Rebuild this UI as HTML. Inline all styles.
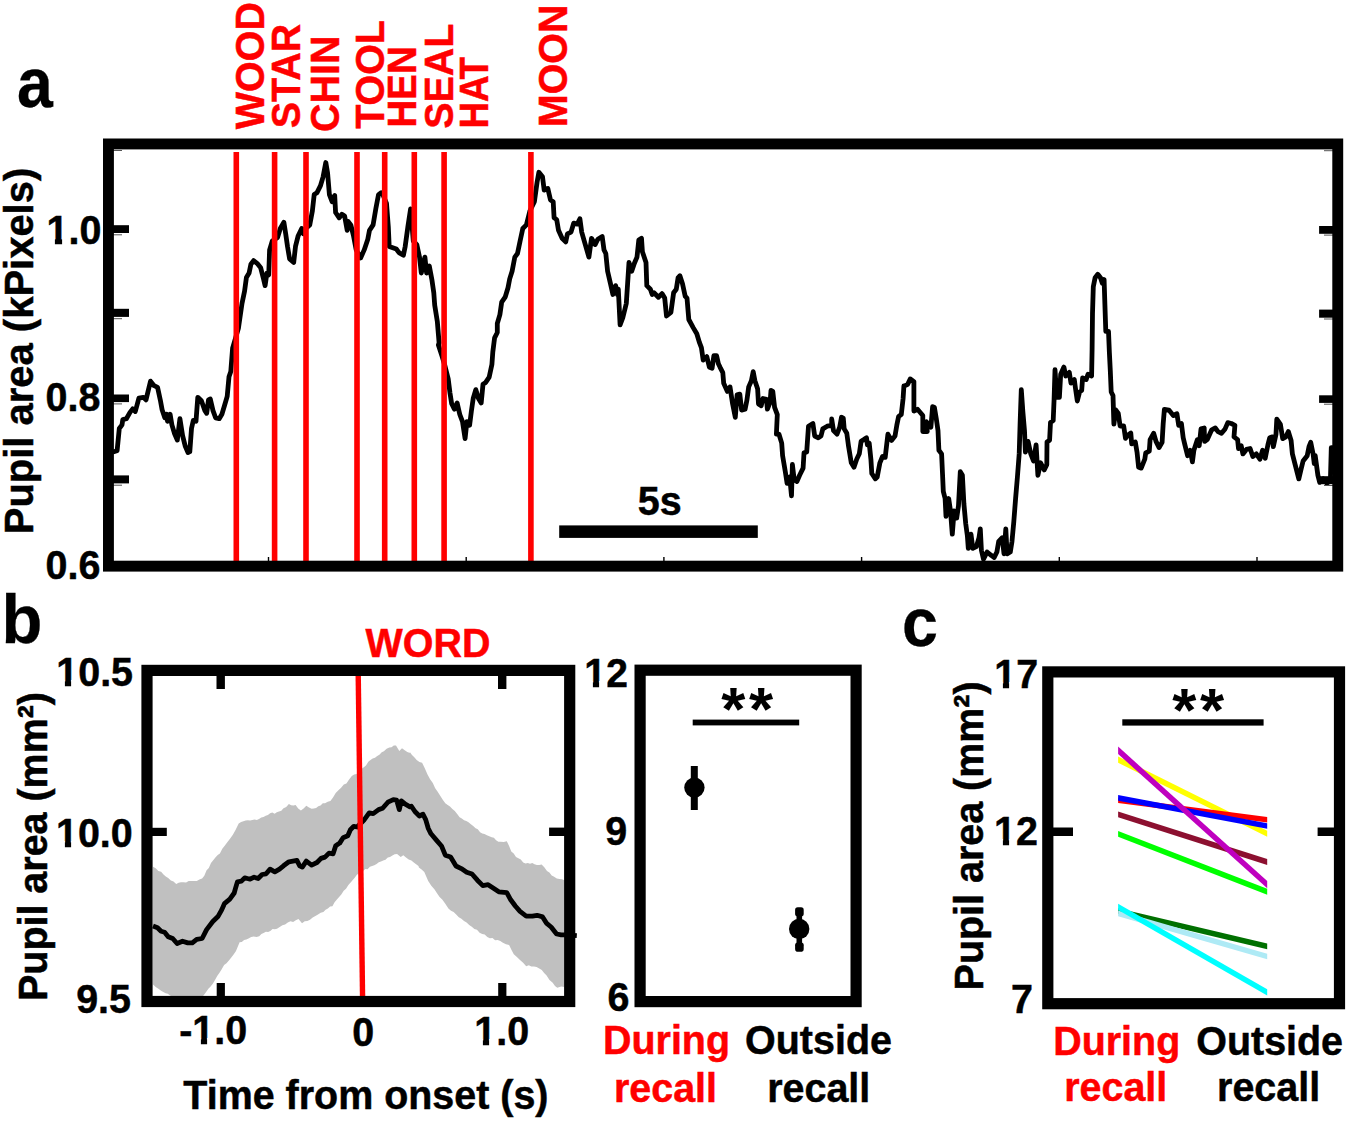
<!DOCTYPE html>
<html><head><meta charset="utf-8"><title>Figure</title>
<style>html,body{margin:0;padding:0;background:#fff}svg{display:block}text{font-family:"Liberation Sans",sans-serif;font-weight:bold}</style>
</head><body>
<svg width="1350" height="1121" viewBox="0 0 1350 1121">
<rect width="1350" height="1121" fill="#fff"/>
<path d="M113.9 451.7 L117.1 450.8 L119.3 428.5 L122.0 424.9 L122.8 419.6 L126.4 418.7 L130.0 412.4 L132.7 408.9 L135.3 411.5 L138.9 398.1 L143.4 397.3 L146.0 399.9 L150.5 381.2 L154.1 385.7 L157.6 387.4 L160.3 399.9 L162.1 409.7 L164.8 417.8 L166.6 414.2 L167.5 421.3 L170.1 414.2 L171.9 424.9 L174.6 433.8 L177.3 440.1 L179.9 418.7 L182.6 435.6 L185.3 446.3 L188.0 452.6 L189.8 451.7 L191.5 428.5 L193.3 420.4 L196.0 421.3 L197.8 397.3 L201.4 400.8 L204.9 410.6 L206.7 413.3 L208.5 399.9 L210.3 399.0 L213.0 410.6 L215.6 417.8 L219.2 418.7 L221.9 414.2 L224.6 405.3 L227.2 396.4 L229.0 376.7 L230.8 371.4 L232.6 348.2 L238.4 328.4 L242.0 303.5 L244.6 291.0 L246.4 277.6 L249.1 273.1 L250.9 264.2 L253.6 260.6 L257.1 263.3 L260.7 267.8 L263.4 278.5 L265.1 285.6 L266.9 273.1 L268.7 274.9 L269.6 249.9 L272.3 241.0 L277.6 237.4 L280.3 228.5 L283.9 222.3 L285.7 233.9 L287.5 246.4 L289.6 258.9 L293.7 262.4 L295.5 246.4 L298.2 235.7 L301.7 228.5 L303.5 233.9 L305.8 228.5 L309.8 224.9 L312.4 210.7 L314.2 194.6 L316.9 192.8 L320.5 185.7 L323.1 176.8 L325.8 162.5 L327.6 173.2 L329.4 194.6 L332.1 201.7 L334.7 195.5 L335.6 212.5 L339.2 217.8 L341.9 214.2 L344.6 216.0 L347.2 230.3 L348.1 221.4 L350.8 224.9 L353.5 235.7 L356.2 249.9 L360.6 258.0 L364.2 249.9 L367.8 239.2 L369.5 230.3 L373.1 224.9 L375.8 208.9 L378.5 194.6 L381.1 192.8 L382.9 194.6 L386.5 203.5 L388.3 226.7 L389.2 246.4 L396.3 249.0 L399.0 252.6 L403.4 255.3 L405.2 246.4 L407.9 226.7 L410.6 208.9 L412.0 224.9 L413.3 241.0 L416.8 244.6 L419.5 257.1 L421.3 273.1 L423.1 264.2 L424.9 257.1 L426.6 273.1 L429.3 266.0 L432.0 280.3 L433.8 292.8 L434.7 305.2 L437.3 321.3 L439.1 342.7 L438.4 344.9 L441.9 355.7 L444.6 364.6 L448.2 378.9 L450.0 393.1 L451.7 403.8 L454.4 409.2 L457.1 402.9 L459.8 414.5 L462.5 421.7 L465.1 438.6 L466.9 421.7 L469.6 425.2 L471.4 411.0 L473.2 398.5 L475.8 389.6 L478.5 398.5 L481.2 402.9 L483.0 384.2 L485.7 382.4 L489.2 377.1 L491.9 364.6 L492.8 352.1 L494.6 337.8 L497.3 332.5 L497.3 323.5 L499.9 314.6 L501.7 302.1 L505.3 296.8 L508.0 287.8 L509.7 278.9 L512.1 271.3 L514.8 257.1 L517.5 253.5 L520.1 241.0 L522.8 228.5 L526.4 224.9 L530.0 210.7 L534.4 201.7 L537.1 182.1 L538.9 172.3 L542.5 176.8 L544.2 190.1 L547.8 188.4 L550.5 200.0 L553.2 201.7 L554.1 217.8 L556.7 219.6 L558.5 230.3 L562.1 238.3 L565.7 241.9 L567.4 233.9 L571.0 232.1 L573.7 223.2 L577.3 224.1 L579.9 218.7 L581.7 232.1 L585.3 244.6 L588.9 257.1 L591.5 238.3 L595.1 244.6 L597.8 239.2 L602.2 236.5 L604.0 249.9 L605.8 253.5 L607.6 271.3 L610.3 282.9 L612.9 294.5 L615.6 285.6 L617.4 294.5 L618.3 289.2 L620.1 324.9 L622.8 317.7 L626.3 303.5 L629.0 262.4 L631.7 271.3 L634.4 263.3 L637.0 257.1 L638.8 240.1 L641.5 238.3 L642.4 251.7 L646.0 262.4 L646.8 285.6 L650.4 289.2 L652.2 294.5 L654.0 292.8 L658.4 297.2 L662.0 293.6 L664.7 298.1 L666.5 316.0 L670.9 312.4 L673.6 292.8 L676.3 289.2 L678.1 277.6 L679.9 275.8 L682.5 283.8 L685.2 296.3 L687.0 298.1 L688.8 319.5 L693.2 327.6 L696.8 333.8 L699.5 342.7 L701.4 347.7 L703.2 360.1 L706.8 356.6 L709.4 367.3 L712.1 368.2 L713.9 355.7 L716.6 355.7 L718.4 363.7 L720.1 367.3 L722.8 372.6 L723.7 383.3 L727.3 391.4 L730.0 386.9 L732.6 403.9 L735.3 417.3 L737.1 394.9 L739.8 394.1 L741.6 410.1 L745.1 409.2 L746.9 400.3 L748.7 386.9 L751.4 380.7 L753.2 371.7 L754.9 380.7 L757.6 388.7 L758.5 403.9 L761.2 405.7 L763.0 398.5 L766.5 399.4 L767.4 409.2 L770.1 402.1 L771.0 390.5 L772.8 391.4 L774.6 407.4 L777.3 414.6 L776.4 434.2 L779.0 434.2 L781.7 443.1 L782.6 455.6 L785.3 471.7 L787.1 483.3 L789.7 477.0 L791.5 495.8 L792.4 464.5 L794.2 479.7 L796.9 481.5 L799.6 475.2 L803.1 468.1 L804.0 452.9 L806.7 452.0 L808.5 426.2 L812.9 423.5 L814.7 436.0 L818.3 437.8 L821.0 436.0 L822.8 428.9 L827.2 426.2 L831.7 425.3 L831.7 419.0 L833.5 430.6 L837.0 434.2 L839.7 427.1 L841.5 417.3 L843.3 418.1 L844.2 428.9 L846.8 433.3 L848.6 446.7 L851.3 462.8 L854.0 467.2 L856.7 459.2 L859.3 453.8 L861.1 441.3 L863.8 439.6 L866.5 437.8 L867.4 444.9 L869.2 443.1 L870.9 459.2 L871.8 473.5 L875.4 478.8 L877.2 477.0 L879.9 462.8 L882.5 456.5 L885.2 457.4 L887.9 434.2 L891.5 440.4 L895.0 436.0 L896.8 425.3 L898.6 416.4 L901.3 414.6 L903.1 398.5 L903.9 386.0 L904.1 386.1 L907.7 384.3 L910.3 378.9 L913.9 381.6 L913.9 411.0 L917.5 409.3 L922.8 415.5 L922.8 431.6 L927.3 431.6 L926.4 421.7 L930.9 427.1 L932.6 406.6 L934.4 407.5 L936.2 418.2 L938.0 430.7 L938.9 450.3 L941.6 453.9 L942.5 473.5 L943.3 491.3 L945.1 498.5 L946.0 516.3 L948.7 498.5 L950.5 511.0 L952.3 534.2 L954.1 511.0 L956.7 518.1 L958.5 505.6 L960.3 471.7 L962.4 475.3 L963.9 503.8 L965.7 523.5 L967.4 536.0 L968.3 548.4 L971.0 534.2 L972.8 548.4 L976.4 546.7 L979.0 537.7 L980.3 528.8 L981.4 550.2 L983.5 559.2 L987.1 552.0 L991.5 555.6 L994.2 557.4 L996.9 552.0 L998.7 541.3 L1002.2 537.7 L1004.0 553.8 L1005.8 528.8 L1007.1 553.8 L1010.3 552.0 L1012.0 541.3 L1013.8 521.7 L1015.6 498.5 L1017.4 477.1 L1019.2 453.9 L1020.1 423.5 L1021.3 389.6 L1022.8 411.0 L1024.5 430.7 L1025.4 452.1 L1028.1 441.4 L1030.8 453.9 L1033.5 461.0 L1036.1 444.9 L1037.9 475.3 L1040.6 462.8 L1044.2 469.9 L1046.8 464.6 L1047.0 442.0 L1049.6 440.2 L1050.5 422.4 L1053.2 420.6 L1054.1 399.2 L1055.0 369.7 L1056.8 397.4 L1059.4 397.4 L1060.7 374.2 L1063.9 367.1 L1065.7 376.0 L1069.3 372.4 L1071.0 383.1 L1074.3 379.6 L1075.5 388.5 L1077.3 401.0 L1079.6 392.0 L1081.7 390.3 L1082.6 377.8 L1086.2 379.6 L1088.0 374.2 L1091.6 376.0 L1092.1 349.2 L1092.5 313.5 L1093.3 286.8 L1095.1 277.8 L1097.8 274.3 L1100.5 277.8 L1102.3 283.2 L1104.1 279.6 L1104.9 304.6 L1105.8 331.4 L1108.5 331.4 L1109.4 352.8 L1110.3 370.6 L1111.2 392.0 L1113.0 395.6 L1113.9 424.2 L1115.7 409.9 L1118.3 413.5 L1120.1 426.0 L1123.7 426.0 L1125.5 438.4 L1128.1 434.9 L1130.8 433.1 L1131.7 443.8 L1135.3 442.0 L1137.1 452.7 L1138.6 467.3 L1141.2 468.1 L1144.8 459.2 L1145.7 453.0 L1149.3 451.2 L1150.1 439.6 L1153.7 433.3 L1156.0 441.4 L1159.1 447.6 L1162.1 442.3 L1163.2 423.5 L1164.4 409.3 L1168.9 410.1 L1173.3 415.5 L1176.9 413.7 L1178.7 425.3 L1181.4 423.5 L1183.2 437.8 L1184.9 444.9 L1187.6 455.7 L1190.3 450.3 L1192.4 461.9 L1193.9 450.3 L1197.4 439.6 L1199.2 445.8 L1201.0 428.9 L1204.2 428.0 L1204.6 441.4 L1207.3 439.6 L1211.7 429.8 L1215.3 428.0 L1218.0 431.6 L1221.5 433.3 L1225.1 428.9 L1227.8 422.6 L1231.3 423.5 L1234.9 425.3 L1234.0 436.9 L1237.6 439.6 L1238.5 448.5 L1241.2 445.8 L1242.9 453.9 L1246.5 449.4 L1250.1 448.5 L1252.8 456.5 L1256.3 453.9 L1259.9 459.2 L1262.6 450.3 L1265.2 458.3 L1267.9 444.9 L1269.7 437.8 L1272.4 436.9 L1273.3 446.7 L1276.0 434.2 L1276.8 419.1 L1280.4 424.4 L1282.7 438.7 L1285.8 436.9 L1288.4 431.6 L1291.1 440.5 L1292.4 453.9 L1295.6 466.4 L1298.8 478.9 L1300.9 469.9 L1303.1 461.0 L1307.2 455.7 L1309.0 446.7 L1310.7 442.3 L1313.1 453.9 L1314.3 463.7 L1315.2 455.7 L1317.9 475.3 L1319.7 482.4 L1323.2 478.9 L1326.8 483.3 L1330.4 480.6 L1331.3 447.6 L1332.5 447.6" fill="none" stroke="#000" stroke-width="4.8" stroke-linejoin="round" stroke-linecap="round"/>
<rect x="233.5" y="152" width="5.6" height="411" fill="#f00"/>
<rect x="271.8" y="152" width="5.6" height="411" fill="#f00"/>
<rect x="303.2" y="152" width="5.6" height="411" fill="#f00"/>
<rect x="354.2" y="152" width="5.6" height="411" fill="#f00"/>
<rect x="381.9" y="152" width="5.6" height="411" fill="#f00"/>
<rect x="411.5" y="152" width="5.6" height="411" fill="#f00"/>
<rect x="441.3" y="152" width="5.6" height="411" fill="#f00"/>
<rect x="528.1" y="152" width="5.6" height="411" fill="#f00"/>
<rect x="112" y="225.2" width="17.0" height="7.8" fill="#000"/>
<rect x="1319.1" y="226.0" width="15" height="7.8" fill="#000"/>
<rect x="113" y="234.3" width="9" height="1" fill="#555"/>
<rect x="1324" y="234.6" width="9" height="1" fill="#555"/>
<rect x="112" y="308.8" width="17.0" height="8.1" fill="#000"/>
<rect x="1319.1" y="309.6" width="15" height="8.1" fill="#000"/>
<rect x="113" y="318.2" width="9" height="1" fill="#555"/>
<rect x="1324" y="318.5" width="9" height="1" fill="#555"/>
<rect x="112" y="394.5" width="17.0" height="7.6" fill="#000"/>
<rect x="1319.1" y="395.3" width="15" height="7.6" fill="#000"/>
<rect x="113" y="403.4" width="9" height="1" fill="#555"/>
<rect x="1324" y="403.7" width="9" height="1" fill="#555"/>
<rect x="112" y="475.4" width="17.0" height="8.0" fill="#000"/>
<rect x="1319.1" y="476.2" width="15" height="8.0" fill="#000"/>
<rect x="113" y="484.7" width="9" height="1" fill="#555"/>
<rect x="1324" y="485.0" width="9" height="1" fill="#555"/>
<rect x="113" y="150" width="9" height="1" fill="#555"/><rect x="1324" y="150.2" width="9" height="1" fill="#555"/>
<rect x="267.8" y="557" width="1.4" height="5" fill="#000"/>
<rect x="465.5" y="557" width="1.4" height="5" fill="#000"/>
<rect x="663.1999999999999" y="557" width="1.4" height="5" fill="#000"/>
<rect x="860.8999999999999" y="557" width="1.4" height="5" fill="#000"/>
<rect x="1058.6" y="557" width="1.4" height="5" fill="#000"/>
<rect x="1256.3" y="557" width="1.4" height="5" fill="#000"/>
<rect x="108.45" y="143.95" width="1229.30" height="422.20" fill="none" stroke="#000" stroke-width="10.9"/>
<rect x="559.2" y="525.4" width="198.6" height="12.5" fill="#000"/>
<clipPath id="cb"><rect x="147" y="670" width="423" height="332"/></clipPath>
<path d="M153.0 866.8 L155.7 868.3 L158.4 871.0 L161.1 871.7 L163.5 874.6 L165.8 876.4 L168.2 877.9 L170.9 880.5 L173.5 881.5 L176.2 884.0 L178.6 882.7 L181.0 882.2 L183.4 882.2 L186.1 882.6 L188.7 881.0 L191.4 880.9 L194.1 881.0 L196.8 880.9 L199.4 879.5 L202.1 878.5 L204.3 875.8 L206.6 870.3 L208.8 867.9 L211.0 863.1 L213.2 860.2 L215.4 857.5 L217.7 855.1 L219.9 853.4 L222.3 848.7 L224.7 845.8 L227.1 842.4 L230.0 838.8 L232.7 835.1 L235.4 830.2 L238.7 823.5 L241.1 822.1 L243.4 821.3 L245.6 820.6 L247.9 820.2 L250.1 820.5 L252.3 820.0 L254.6 819.5 L256.8 820.1 L259.0 819.1 L261.3 817.4 L263.5 817.1 L265.7 815.7 L267.9 814.9 L270.1 813.3 L272.3 812.5 L274.6 813.8 L276.8 812.2 L279.0 811.4 L281.3 810.7 L283.5 808.3 L286.2 806.9 L288.9 804.1 L291.1 805.2 L293.4 805.4 L295.6 805.0 L298.2 808.6 L300.9 810.6 L303.6 808.6 L306.3 805.8 L309.0 807.4 L311.6 808.8 L313.8 808.6 L316.1 807.9 L318.3 806.2 L320.5 805.4 L322.8 803.2 L325.0 803.3 L327.7 801.8 L330.4 801.1 L333.0 797.4 L335.7 793.1 L338.4 790.3 L341.1 787.8 L343.8 784.6 L346.4 783.4 L349.1 779.6 L351.8 776.1 L354.1 774.4 L356.5 774.0 L358.9 770.8 L361.4 769.0 L363.8 767.2 L366.0 765.6 L368.3 761.8 L370.5 760.0 L372.7 758.6 L375.0 757.7 L377.2 756.0 L379.4 754.7 L381.7 752.3 L383.9 751.2 L386.6 748.8 L389.3 747.4 L391.5 747.3 L393.8 745.6 L396.0 745.4 L399.3 750.9 L402.0 748.2 L404.7 750.2 L407.3 752.0 L410.0 753.0 L409.6 751.7 L412.0 754.9 L414.3 757.2 L416.7 759.9 L419.4 762.0 L422.1 762.8 L424.8 768.3 L427.4 774.3 L430.1 779.3 L432.8 783.1 L435.2 788.2 L437.5 791.5 L439.9 795.3 L442.6 799.6 L445.3 803.3 L447.7 805.1 L450.0 806.4 L452.4 809.1 L454.8 811.1 L457.2 814.1 L459.6 817.3 L461.8 818.5 L464.1 820.2 L466.3 821.0 L468.5 822.2 L470.9 824.3 L473.2 826.0 L475.6 828.3 L477.8 829.2 L480.1 832.3 L482.3 833.4 L484.5 834.1 L486.9 835.2 L489.3 836.2 L491.7 837.2 L493.9 837.8 L496.1 840.3 L498.4 841.7 L500.6 841.8 L503.7 841.9 L506.8 841.2 L509.1 846.1 L511.3 851.4 L513.7 853.6 L516.0 857.0 L518.4 858.2 L520.8 859.4 L523.2 862.6 L525.6 863.4 L527.8 862.9 L530.0 863.8 L532.3 863.1 L534.5 864.3 L536.9 865.1 L539.2 864.9 L541.6 864.6 L544.3 867.3 L547.0 871.1 L549.4 872.5 L551.7 875.4 L554.1 876.8 L556.8 878.5 L559.5 879.0 L562.0 879.3 L564.5 880.2 L564.3 986.9 L561.2 986.5 L557.3 987.7 L555.0 986.1 L552.7 982.7 L549.5 980.0 L546.4 975.2 L544.1 972.9 L541.8 970.0 L539.2 968.5 L536.6 966.9 L534.0 966.6 L531.4 966.5 L528.8 965.3 L526.2 966.3 L523.1 962.8 L520.0 959.9 L516.9 957.0 L513.8 954.2 L511.4 949.8 L509.1 945.1 L506.0 944.3 L502.9 942.7 L500.3 941.0 L497.7 940.0 L495.1 940.2 L492.5 937.9 L489.9 938.2 L487.3 937.0 L484.7 934.4 L482.2 934.0 L479.6 932.8 L477.0 929.7 L474.4 929.0 L471.8 926.7 L469.2 925.0 L466.6 922.4 L464.0 921.1 L461.4 918.7 L458.8 917.3 L456.2 914.6 L453.6 912.1 L451.0 910.8 L448.4 908.4 L445.3 903.8 L442.2 899.4 L439.6 897.0 L437.0 893.2 L434.4 889.3 L431.3 885.8 L428.2 881.1 L424.3 871.9 L421.6 869.4 L418.9 867.4 L418.5 866.0 L416.1 864.2 L413.8 862.6 L411.4 860.5 L408.7 859.5 L406.0 857.5 L403.3 855.3 L400.7 857.0 L397.1 854.0 L394.7 854.3 L392.4 855.4 L390.0 857.1 L387.8 857.4 L385.5 859.8 L383.2 860.5 L381.0 861.5 L378.8 862.3 L376.6 863.9 L374.3 865.3 L372.1 866.0 L369.9 866.7 L367.6 869.2 L365.4 869.1 L363.2 870.7 L359.1 873.2 L356.9 874.7 L354.7 877.8 L351.5 881.4 L348.4 884.9 L346.0 888.7 L343.7 890.8 L341.3 894.6 L339.1 897.0 L336.9 899.6 L334.6 902.3 L332.4 906.2 L330.1 906.4 L327.9 908.5 L325.6 909.7 L323.4 911.9 L320.7 912.8 L318.0 914.5 L315.4 916.0 L312.7 917.5 L310.0 919.7 L307.4 920.9 L304.7 921.2 L302.0 923.2 L298.5 918.9 L295.8 920.3 L293.1 921.9 L290.5 921.3 L287.8 922.6 L285.1 924.5 L282.4 925.3 L279.7 927.0 L277.0 928.7 L274.8 929.3 L272.6 928.9 L270.3 931.0 L268.1 932.0 L265.9 931.8 L263.6 932.9 L261.4 934.1 L259.2 936.2 L256.5 937.1 L253.8 936.5 L251.2 937.0 L248.5 938.4 L246.3 939.5 L244.1 939.9 L241.8 942.1 L239.6 942.3 L236.0 951.0 L233.6 954.4 L231.3 957.4 L228.9 960.6 L226.5 963.2 L224.1 965.1 L221.7 969.3 L219.5 972.7 L217.2 975.9 L215.0 980.1 L212.8 983.8 L210.6 986.4 L208.4 988.8 L206.1 991.9 L203.9 995.1 L202.1 996.9 L199.7 997.2 L197.3 998.2 L195.0 998.3 L192.6 998.2 L190.2 997.3 L187.8 998.2 L185.5 997.7 L183.1 997.0 L180.7 997.0 L178.3 996.6 L176.0 996.6 L173.6 997.1 L170.0 995.6 L167.8 993.8 L165.6 993.3 L163.3 992.1 L161.1 990.8 L158.4 988.8 L155.7 986.9 L153.0 984.6Z" fill="#c0c0c0" clip-path="url(#cb)"/>
<path d="M153.0 926.0 L157.5 927.8 L161.1 931.3 L164.6 932.2 L168.2 936.7 L172.7 938.5 L177.1 943.5 L182.5 941.2 L187.8 942.9 L192.3 942.9 L196.7 939.4 L202.1 938.5 L206.6 929.6 L212.8 921.5 L218.2 916.2 L221.7 909.9 L224.4 903.7 L229.8 899.2 L234.2 893.0 L235.4 888.6 L237.4 881.9 L241.4 881.2 L244.7 877.8 L250.1 879.2 L254.1 877.2 L258.1 878.5 L262.1 874.5 L266.1 873.8 L270.1 869.1 L274.8 871.8 L279.5 869.1 L283.5 865.8 L288.9 861.8 L292.9 861.1 L296.9 860.4 L299.6 865.8 L302.3 867.1 L306.3 861.1 L311.6 865.1 L317.0 862.5 L321.0 858.4 L325.0 857.1 L329.0 853.1 L333.1 853.8 L335.7 845.7 L339.7 843.1 L343.1 837.7 L347.8 835.7 L350.4 829.7 L353.8 826.3 L357.1 827.0 L363.8 820.3 L369.2 812.9 L373.2 813.6 L378.6 809.6 L382.6 808.3 L387.9 802.2 L393.3 799.6 L396.6 800.2 L399.3 809.6 L401.3 800.9 L405.3 804.2 L410.0 806.9 L411.4 806.2 L414.9 811.5 L419.4 816.0 L423.0 814.2 L425.7 819.6 L428.3 828.5 L431.0 833.8 L436.4 840.1 L441.7 846.3 L445.3 855.2 L450.6 857.0 L456.0 866.0 L461.3 868.6 L466.7 872.2 L472.0 874.0 L477.4 880.2 L482.8 885.6 L488.1 884.7 L493.5 888.3 L498.8 891.8 L506.8 892.7 L510.7 899.8 L515.3 906.0 L520.0 911.4 L526.2 916.1 L532.4 916.1 L537.1 915.3 L542.6 916.9 L546.4 923.1 L551.1 927.0 L556.6 934.0 L561.2 934.8 L564.3 934.8 L576.8 935.6" fill="none" stroke="#000" stroke-width="4.8" stroke-linejoin="round"/>
<line x1="358.2" y1="674" x2="362.6" y2="999" stroke="#f00" stroke-width="5.4"/>
<rect x="216.5" y="675" width="8.4" height="14" fill="#000"/>
<rect x="216.7" y="983" width="8.2" height="14" fill="#000"/>
<rect x="498.0" y="675" width="8.4" height="14" fill="#000"/>
<rect x="498.2" y="983" width="8.2" height="14" fill="#000"/>
<rect x="152" y="827.8" width="14.8" height="8.2" fill="#000"/>
<rect x="549.1" y="827.6" width="16" height="8.4" fill="#000"/>
<rect x="147.00" y="670.40" width="422.70" height="331.10" fill="none" stroke="#000" stroke-width="11.2"/>
<rect x="640.10" y="670.20" width="216.00" height="331.40" fill="none" stroke="#000" stroke-width="11.2"/>
<rect x="692.7" y="719.6" width="106.5" height="5.8" fill="#000"/>
<rect x="690.8" y="766" width="7" height="44" fill="#000"/><circle cx="694.4" cy="787.6" r="10.2" fill="#000"/>
<rect x="796.5" y="908" width="5.6" height="43.5" fill="#000"/><circle cx="799.2" cy="929" r="10.2" fill="#000"/><rect x="795.1" y="907.3" width="8.6" height="9" rx="2.6" fill="#000"/><rect x="795.1" y="942.6" width="8.6" height="9" rx="2.6" fill="#000"/>
<polygon points="1118.1,756.53 1267.2,830.73 1267.2,836.87 1118.1,762.67" fill="#ffff00"/>
<polygon points="1118.1,797.43 1267.2,816.93 1267.2,822.47 1118.1,802.97" fill="#ff0000"/>
<polygon points="1118.1,795.10 1267.2,823.20 1267.2,828.80 1118.1,800.70" fill="#0000ff"/>
<polygon points="1118.1,811.41 1267.2,859.11 1267.2,864.89 1118.1,817.19" fill="#8c1030"/>
<polygon points="1118.1,830.95 1267.2,888.75 1267.2,894.65 1118.1,836.85" fill="#00ff00"/>
<polygon points="1118.1,746.60 1267.2,880.90 1267.2,888.30 1118.1,754.00" fill="#bf00bf"/>
<polygon points="1118.1,908.17 1267.2,943.47 1267.2,949.13 1118.1,913.83" fill="#007000"/>
<polygon points="1118.1,910.44 1267.2,953.64 1267.2,959.36 1118.1,916.16" fill="#aeeaf5"/>
<polygon points="1118.1,903.63 1267.2,989.23 1267.2,995.57 1118.1,909.97" fill="#00ffff"/>
<rect x="1052" y="827.5" width="21" height="8.5" fill="#000"/>
<rect x="1317.6" y="827.5" width="18" height="8.5" fill="#000"/>
<rect x="1047.80" y="671.90" width="291.70" height="331.80" fill="none" stroke="#000" stroke-width="11.2"/>
<rect x="1122.3" y="719.3" width="141.3" height="6.3" fill="#000"/>
<text transform="translate(637.85,515.30) scale(0.955,1)" font-size="41.3" text-anchor="start" fill="#000" stroke="#000" stroke-width="0.5" font-family="Liberation Sans, sans-serif" font-weight="bold">5s</text>
<text transform="translate(101.35,244.15) scale(0.955,1)" font-size="41.3" text-anchor="end" fill="#000" stroke="#000" stroke-width="0.5" font-family="Liberation Sans, sans-serif" font-weight="bold">1.0</text>
<text transform="translate(100.45,411.35) scale(0.955,1)" font-size="41.3" text-anchor="end" fill="#000" stroke="#000" stroke-width="0.5" font-family="Liberation Sans, sans-serif" font-weight="bold">0.8</text>
<text transform="translate(100.45,578.65) scale(0.955,1)" font-size="41.3" text-anchor="end" fill="#000" stroke="#000" stroke-width="0.5" font-family="Liberation Sans, sans-serif" font-weight="bold">0.6</text>
<text transform="translate(33.45,351.00) rotate(-90) scale(0.968,1)" font-size="41.3" text-anchor="middle" fill="#000" stroke="#000" stroke-width="0.5" font-family="Liberation Sans, sans-serif" font-weight="bold">Pupil area (kPixels)</text>
<text transform="translate(263.70,129.15) rotate(-90) scale(0.955,1)" font-size="41.3" text-anchor="start" fill="#f00" stroke="#f00" stroke-width="0.5" font-family="Liberation Sans, sans-serif" font-weight="bold">WOOD</text>
<text transform="translate(299.85,128.25) rotate(-90) scale(0.955,1)" font-size="41.3" text-anchor="start" fill="#f00" stroke="#f00" stroke-width="0.5" font-family="Liberation Sans, sans-serif" font-weight="bold">STAR</text>
<text transform="translate(339.45,132.00) rotate(-90) scale(0.955,1)" font-size="41.3" text-anchor="start" fill="#f00" stroke="#f00" stroke-width="0.5" font-family="Liberation Sans, sans-serif" font-weight="bold">CHIN</text>
<text transform="translate(384.00,128.85) rotate(-90) scale(0.955,1)" font-size="41.3" text-anchor="start" fill="#f00" stroke="#f00" stroke-width="0.5" font-family="Liberation Sans, sans-serif" font-weight="bold">TOOL</text>
<text transform="translate(416.15,127.45) rotate(-90) scale(0.93,1)" font-size="41.3" text-anchor="start" fill="#f00" stroke="#f00" stroke-width="0.5" font-family="Liberation Sans, sans-serif" font-weight="bold">HEN</text>
<text transform="translate(453.00,128.80) rotate(-90) scale(0.955,1)" font-size="41.3" text-anchor="start" fill="#f00" stroke="#f00" stroke-width="0.5" font-family="Liberation Sans, sans-serif" font-weight="bold">SEAL</text>
<text transform="translate(487.90,128.45) rotate(-90) scale(0.89,1)" font-size="41.3" text-anchor="start" fill="#f00" stroke="#f00" stroke-width="0.5" font-family="Liberation Sans, sans-serif" font-weight="bold">HA<tspan dx="-4.5">T</tspan></text>
<text transform="translate(567.35,127.20) rotate(-90) scale(0.955,1)" font-size="41.3" text-anchor="start" fill="#f00" stroke="#f00" stroke-width="0.5" font-family="Liberation Sans, sans-serif" font-weight="bold">MOON</text>
<text transform="translate(17.05,106.90) scale(0.92,1)" font-size="70" text-anchor="start" fill="#000" stroke="#000" stroke-width="0.3" font-family="Liberation Sans, sans-serif" font-weight="bold">a</text>
<text transform="translate(1.45,642.60) scale(0.97,1)" font-size="69" text-anchor="start" fill="#000" stroke="#000" stroke-width="0.3" font-family="Liberation Sans, sans-serif" font-weight="bold">b</text>
<text transform="translate(902.10,645.65) scale(0.95,1)" font-size="68" text-anchor="start" fill="#000" stroke="#000" stroke-width="0.3" font-family="Liberation Sans, sans-serif" font-weight="bold">c</text>
<text transform="translate(133.05,686.00) scale(0.955,1)" font-size="41.3" text-anchor="end" fill="#000" stroke="#000" stroke-width="0.5" font-family="Liberation Sans, sans-serif" font-weight="bold">10.5</text>
<text transform="translate(132.75,846.50) scale(0.955,1)" font-size="41.3" text-anchor="end" fill="#000" stroke="#000" stroke-width="0.5" font-family="Liberation Sans, sans-serif" font-weight="bold">10.0</text>
<text transform="translate(131.00,1012.85) scale(0.955,1)" font-size="41.3" text-anchor="end" fill="#000" stroke="#000" stroke-width="0.5" font-family="Liberation Sans, sans-serif" font-weight="bold">9.5</text>
<text transform="translate(213.15,1044.45) scale(0.955,1)" font-size="41.3" text-anchor="middle" fill="#000" stroke="#000" stroke-width="0.5" font-family="Liberation Sans, sans-serif" font-weight="bold">-1.0</text>
<text transform="translate(363.20,1045.50) scale(0.955,1)" font-size="41.3" text-anchor="middle" fill="#000" stroke="#000" stroke-width="0.5" font-family="Liberation Sans, sans-serif" font-weight="bold">0</text>
<text transform="translate(501.65,1044.85) scale(0.955,1)" font-size="41.3" text-anchor="middle" fill="#000" stroke="#000" stroke-width="0.5" font-family="Liberation Sans, sans-serif" font-weight="bold">1.0</text>
<text transform="translate(46.90,846.50) rotate(-90) scale(0.955,1)" font-size="41.3" text-anchor="middle" fill="#000" stroke="#000" stroke-width="0.5" font-family="Liberation Sans, sans-serif" font-weight="bold">Pupil area (mm²)</text>
<text transform="translate(365.90,1109.40) scale(0.955,1)" font-size="41.3" text-anchor="middle" fill="#000" stroke="#000" stroke-width="0.5" font-family="Liberation Sans, sans-serif" font-weight="bold">Time from onset (s)</text>
<text transform="translate(428.00,657.45) scale(0.955,1)" font-size="41.3" text-anchor="middle" fill="#f00" stroke="#f00" stroke-width="0.5" font-family="Liberation Sans, sans-serif" font-weight="bold">WORD</text>
<text transform="translate(628.05,687.40) scale(0.955,1)" font-size="41.3" text-anchor="end" fill="#000" stroke="#000" stroke-width="0.5" font-family="Liberation Sans, sans-serif" font-weight="bold">12</text>
<text transform="translate(627.25,844.75) scale(0.955,1)" font-size="41.3" text-anchor="end" fill="#000" stroke="#000" stroke-width="0.5" font-family="Liberation Sans, sans-serif" font-weight="bold">9</text>
<text transform="translate(629.40,1010.65) scale(0.955,1)" font-size="41.3" text-anchor="end" fill="#000" stroke="#000" stroke-width="0.5" font-family="Liberation Sans, sans-serif" font-weight="bold">6</text>
<text transform="translate(747.25,730.15) scale(1,1)" font-size="62" text-anchor="middle" fill="#000" stroke="#000" stroke-width="0" font-family="Liberation Sans, sans-serif" font-weight="bold">*<tspan dx="3.6">*</tspan></text>
<text transform="translate(666.50,1053.55) scale(0.955,1)" font-size="41.3" text-anchor="middle" fill="#f00" stroke="#f00" stroke-width="0.5" font-family="Liberation Sans, sans-serif" font-weight="bold">During</text>
<text transform="translate(665.50,1101.75) scale(0.955,1)" font-size="41.3" text-anchor="middle" fill="#f00" stroke="#f00" stroke-width="0.5" font-family="Liberation Sans, sans-serif" font-weight="bold">recall</text>
<text transform="translate(818.50,1053.60) scale(0.955,1)" font-size="41.3" text-anchor="middle" fill="#000" stroke="#000" stroke-width="0.5" font-family="Liberation Sans, sans-serif" font-weight="bold">Outside</text>
<text transform="translate(818.75,1101.75) scale(0.955,1)" font-size="41.3" text-anchor="middle" fill="#000" stroke="#000" stroke-width="0.5" font-family="Liberation Sans, sans-serif" font-weight="bold">recall</text>
<text transform="translate(1198.30,731.40) scale(1,1)" font-size="62" text-anchor="middle" fill="#000" stroke="#000" stroke-width="0" font-family="Liberation Sans, sans-serif" font-weight="bold">*<tspan dx="3.6">*</tspan></text>
<text transform="translate(1038.10,688.05) scale(0.955,1)" font-size="41.3" text-anchor="end" fill="#000" stroke="#000" stroke-width="0.5" font-family="Liberation Sans, sans-serif" font-weight="bold">17</text>
<text transform="translate(1037.85,844.95) scale(0.955,1)" font-size="41.3" text-anchor="end" fill="#000" stroke="#000" stroke-width="0.5" font-family="Liberation Sans, sans-serif" font-weight="bold">12</text>
<text transform="translate(1032.85,1013.20) scale(0.955,1)" font-size="41.3" text-anchor="end" fill="#000" stroke="#000" stroke-width="0.5" font-family="Liberation Sans, sans-serif" font-weight="bold">7</text>
<text transform="translate(983.45,835.90) rotate(-90) scale(0.955,1)" font-size="41.3" text-anchor="middle" fill="#000" stroke="#000" stroke-width="0.5" font-family="Liberation Sans, sans-serif" font-weight="bold">Pupil area (mm²)</text>
<text transform="translate(1116.70,1055.40) scale(0.955,1)" font-size="41.3" text-anchor="middle" fill="#f00" stroke="#f00" stroke-width="0.5" font-family="Liberation Sans, sans-serif" font-weight="bold">During</text>
<text transform="translate(1115.70,1101.25) scale(0.955,1)" font-size="41.3" text-anchor="middle" fill="#f00" stroke="#f00" stroke-width="0.5" font-family="Liberation Sans, sans-serif" font-weight="bold">recall</text>
<text transform="translate(1269.65,1054.80) scale(0.955,1)" font-size="41.3" text-anchor="middle" fill="#000" stroke="#000" stroke-width="0.5" font-family="Liberation Sans, sans-serif" font-weight="bold">Outside</text>
<text transform="translate(1268.60,1101.25) scale(0.955,1)" font-size="41.3" text-anchor="middle" fill="#000" stroke="#000" stroke-width="0.5" font-family="Liberation Sans, sans-serif" font-weight="bold">recall</text>
<rect x="46.50" y="238.00" width="8.40" height="8.00" fill="#fff"/>
<rect x="62.10" y="238.00" width="7.20" height="8.00" fill="#fff"/>
<rect x="56.50" y="680.00" width="8.40" height="8.00" fill="#fff"/>
<rect x="71.10" y="680.00" width="8.20" height="8.00" fill="#fff"/>
<rect x="56.50" y="841.00" width="8.40" height="8.00" fill="#fff"/>
<rect x="71.10" y="841.00" width="7.20" height="8.00" fill="#fff"/>
<rect x="192.50" y="1038.00" width="8.40" height="8.00" fill="#fff"/>
<rect x="207.10" y="1038.00" width="8.20" height="8.00" fill="#fff"/>
<rect x="474.50" y="1039.00" width="8.40" height="8.00" fill="#fff"/>
<rect x="489.10" y="1039.00" width="8.20" height="8.00" fill="#fff"/>
<rect x="584.50" y="681.00" width="8.40" height="8.00" fill="#fff"/>
<rect x="599.10" y="681.00" width="8.20" height="8.00" fill="#fff"/>
<rect x="994.50" y="682.00" width="8.40" height="8.00" fill="#fff"/>
<rect x="1009.10" y="682.00" width="8.20" height="8.00" fill="#fff"/>
<rect x="994.50" y="839.00" width="8.40" height="8.00" fill="#fff"/>
<rect x="1009.10" y="839.00" width="7.20" height="8.00" fill="#fff"/>
</svg>
</body></html>
